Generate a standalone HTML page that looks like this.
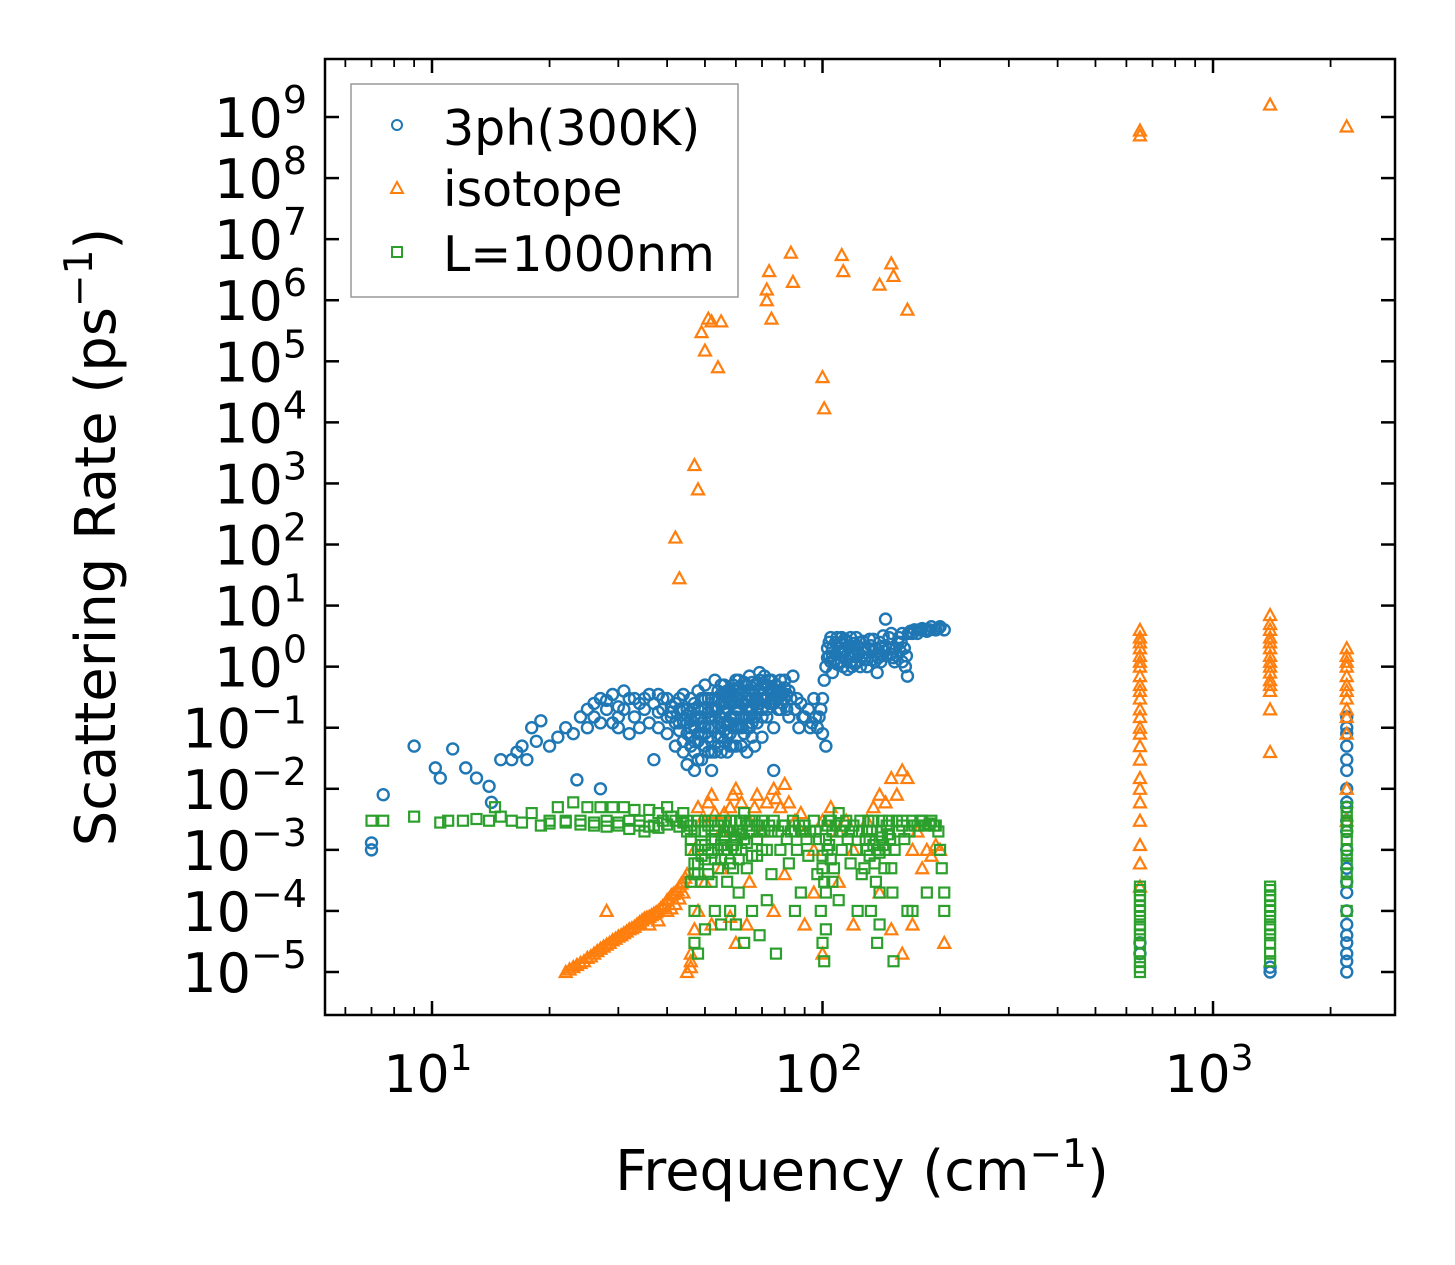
<!DOCTYPE html>
<html><head><meta charset="utf-8"><style>
body{margin:0;background:#fff}
svg{display:block}
text{font-family:"DejaVu Sans","Liberation Sans",sans-serif;fill:#000}
</style></head><body>
<svg id="chart" width="1455" height="1265" viewBox="0 0 1455 1265">
<rect x="0" y="0" width="1455" height="1265" fill="#fff"/>
<g id="marks"></g>
<g id="axes"></g>
<rect x="325" y="59" width="1070" height="956" fill="none" stroke="#000" stroke-width="2.5"/>
<text x="862" y="1190" font-size="56" text-anchor="middle">Frequency (cm<tspan dy="-23" font-size="39">−1</tspan><tspan dy="23">)</tspan></text>
<text transform="translate(115,537) rotate(-90)" font-size="56" text-anchor="middle">Scattering Rate (ps<tspan dy="-23" font-size="39">−1</tspan><tspan dy="23">)</tspan></text>
<g>
<rect x="351" y="84" width="387" height="213" fill="#fff" fill-opacity="0.8" stroke="#999" stroke-width="1.5"/>
<circle cx="397" cy="125" r="5" fill="none" stroke="#1f77b4" stroke-width="2"/>
<text x="443" y="145" font-size="49">3ph(300K)</text>
<path d="M397,182 L403,193 L391,193 Z" fill="none" stroke="#ff7f0e" stroke-width="2"/>
<text x="443" y="206" font-size="49">isotope</text>
<rect x="392" y="247" width="10" height="10" fill="none" stroke="#2ca02c" stroke-width="2"/>
<text x="443" y="271" font-size="49">L=1000nm</text>
</g>
</svg>
<script>
const xTicks=[1,2,3];
const yTicks=[-5,-4,-3,-2,-1,0,1,2,3,4,5,6,7,8,9];
const ph3=[[7,1e-3],[7,1.3e-3],[7.5,8e-3],[9,0.05],[10.2,0.022],[10.5,0.015],[11.3,0.045],[12.2,0.022],[13,0.015],[14,0.011],[14.2,0.006],[15,0.03],[16,0.03],[16.5,0.04],[17,0.05],[17.5,0.03],[18,0.1],[18.5,0.06],[19,0.13],[20,0.05],[21,0.07],[22,0.1],[23,0.08],[23.5,0.014],[24,0.15],[25,0.2],[26,0.25],[27,0.3],[27,0.01],[28,0.2],[29,0.35],[30,0.15],[31,0.4],[33,0.3],[35,0.2],[37,0.03],[38,0.35],
[25,0.1],[26,0.15],[27,0.12],[28,0.28],[29,0.12],[30,0.22],[30,0.1],[31,0.2],[32,0.08],[32,0.3],[33,0.15],[34,0.1],[34,0.25],[35,0.3],[36,0.12],[36,0.35],[37,0.25],[38,0.1],[38,0.18],[39,0.2],[39,0.3],[40,0.3],[40,0.08],[40,0.15],[41,0.15],[41,0.22],[42,0.25],[42,0.05],[42,0.12],[43,0.12],[43,0.3],[44,0.35],[44,0.04],[44,0.2],[45,0.2],[45,0.025],[45,0.08],[45,0.12],[46,0.1],[46,0.3],[46,0.05],[46,0.18],[47,0.06],[47,0.02],[47,0.1],[47,0.25],[48,0.15],[48,0.4],[48,0.03],[48,0.08],[49,0.08],[49,0.03],[49,0.2],[49,0.12],[50,0.2],[50,0.5],[50,0.05],[50,0.1],[51,0.1],[51,0.04],[51,0.3],[51,0.18],[52,0.3],[52,0.02],[52,0.06],[52,0.15],[53,0.15],[53,0.6],[53,0.04],[53,0.3],[54,0.07],[54,0.2],[54,0.4],[54,0.12],[55,0.25],[55,0.04],[55,0.1],[55,0.5],[56,0.12],[56,0.5],[56,0.06],[56,0.25],[57,0.2],[57,0.08],[57,0.4],[57,0.04],[58,0.08],[58,0.4],[58,0.15],[58,0.25],[59,0.15],[59,0.05],[59,0.5],[60,0.3],[60,0.05],[60,0.15],[60,0.6],[61,0.6],[61,0.1],[61,0.3],[62,0.1],[62,0.25],[62,0.05],[63,0.4],[63,0.15],[63,0.08],[64,0.15],[64,0.04],[64,0.3],[65,0.7],[65,0.2],[65,0.1],[66,0.2],[66,0.4],[66,0.07],[67,0.35],[67,0.05],[67,0.15],[68,0.12],[68,0.5],[69,0.8],[69,0.25],[70,0.3],[70,0.07],[70,0.15],[71,0.5],[72,0.5],[72,0.15],[72,0.3],[73,0.4],[74,0.3],[74,0.6],[75,0.1],[75,0.02],[75,0.25],[76,0.5],[77,0.4],[77,0.2],[78,0.2],[78,0.6],[79,0.35],[80,0.6],[80,0.3],[81,0.2],[82,0.15],[82,0.4],[83,0.3],[84,0.7],[85,0.2],[86,0.3],[87,0.1],[88,0.25],[89,0.15],[90,0.15],[92,0.2],[93,0.1],[94,0.12],[95,0.3],[96,0.15],[97,0.1],[98,0.15],[99,0.2],[100,0.08],[102,0.05],[100,0.3],[101,0.6],
[41,0.18],[43,0.09],[43,0.2],[44,0.06],[44,0.13],[45,0.16],[46,0.07],[46,0.13],[47,0.15],[47,0.04],[48,0.2],[48,0.06],[49,0.15],[49,0.3],[50,0.08],[50,0.3],[51,0.07],[51,0.14],[52,0.1],[52,0.2],[52,0.04],[53,0.1],[53,0.2],[54,0.05],[54,0.3],[55,0.15],[55,0.07],[55,0.35],[56,0.09],[56,0.18],[56,0.35],[57,0.12],[57,0.3],[58,0.05],[58,0.12],[59,0.1],[59,0.25],[59,0.35],[60,0.1],[60,0.2],[60,0.4],[61,0.2],[61,0.45],[62,0.15],[62,0.35],[63,0.25],[63,0.55],[64,0.1],[64,0.2],[64,0.5],[65,0.15],[65,0.35],[66,0.12],[66,0.3],[66,0.55],[67,0.25],[67,0.5],[68,0.2],[68,0.3],[69,0.4],[69,0.6],[70,0.2],[70,0.45],[71,0.3],[71,0.7],[72,0.2],[73,0.25],[73,0.6],[74,0.45],[75,0.4],[76,0.35],[77,0.3],[78,0.4],[79,0.25],[80,0.45],[81,0.35],
[102,1],[103,2],[104,1.5],[105,3],[106,0.8],[108,2.5],[110,1.2],[112,3],[114,1.8],[116,0.9],[118,2.2],[120,1.5],[122,3],[125,1],[128,2],[130,1.3],[132,2.8],[135,1.8],[138,0.8],[140,2.5],[143,3.2],[145,6],[148,2],[150,3.5],[153,1.2],[156,2.5],[160,3.5],[163,1],[165,0.7],[168,3.8],[172,4],[175,3.5],[180,4.2],[185,3.8],[190,4.5],[195,4],[200,4.5],[205,4],
[104,2.5],[105,1.2],[106,2],[107,1.2],[108,1.6],[109,3],[110,2],[111,1.8],[112,1.2],[113,1],[114,2.8],[115,2.6],[116,1.6],[117,1.4],[118,3],[119,1],[120,2.4],[121,2],[122,1.2],[124,1.6],[125,2.5],[127,2.6],[128,1.3],[130,1],[131,2],[134,1.3],[135,2.8],[137,2],[139,1.4],[141,1.2],[142,2],[144,1.8],[146,1.5],[148,3],[151,2],[152,1.4],[155,1.5],[157,3],[158,1.8],[160,1.2],[162,2],[164,1.5],[166,3.5],[170,3.5],[177,4],[183,4],[188,4],[198,4.2],
[103,1.4],[106,1.5],[109,1.1],[111,2.4],[113,1.7],[115,1.3],[117,2],[119,1.6],[121,1.1],[123,2.2],[126,1.5],[129,1.7],[133,2.2],[136,1.2],[140,1.6],[145,2.2],[150,1.6],[154,2],[159,2.5],
[650,3e-5],[650,2e-5],[1400,1e-5],[1400,1.2e-5],[2200,1e-5],[2200,2e-5],[2200,3e-5],[2200,6e-5],[2200,1e-4],[2200,3e-4],[2200,1e-3],[2200,3e-3],[2200,1e-2],[2200,3e-2],[2200,0.08],[2200,0.15],[2200,0.05],[2200,0.006],[2200,1.5e-5],[2200,4e-5],[2200,2e-4],[2200,5e-4],[2200,2e-3],[2200,5e-3],[2200,2e-2],[2200,0.1]];
const iso=[[42,130],[43,28],[47,2e3],[48,800],[49,3e5],[50,1.5e5],[51,5e5],[52,4.5e5],[55,4.5e5],[54,8e4],[72,1e6],[73,3e6],[74,5e5],[72,1.5e6],[83,6e6],[84,2e6],[100,5.5e4],[101,1.7e4],[112,5.5e6],[113,3e6],[140,1.8e6],[150,4e6],[152,2.5e6],[165,7e5],[650,5e8],[650,6e8],[1400,1.6e9],[2200,7e8],
[22,1e-5],[22.5,1.1e-5],[23,1.2e-5],[23.5,1.3e-5],[24,1.4e-5],[24.5,1.5e-5],[25,1.7e-5],[25.5,1.8e-5],[26,2e-5],[26.5,2.2e-5],[27,2.4e-5],[27.5,2.6e-5],[28,2.8e-5],[28.5,3e-5],[29,3.3e-5],[29.5,3.5e-5],[30,3.8e-5],[30.5,4e-5],[31,4.3e-5],[31.5,4.6e-5],[32,5e-5],[32.5,5.2e-5],[33,5.5e-5],[33.5,6e-5],[34,6.5e-5],[34.5,7e-5],[35,7.5e-5],[35.5,7.8e-5],[36,8e-5],[36.5,8.5e-5],[37,9e-5],[37.5,9.5e-5],[38,1e-4],[38.5,1.1e-4],[39,1.2e-4],[39.5,1.3e-4],[40,1.5e-4],[40.5,1.6e-4],[41,1.8e-4],[41.5,1.9e-4],[42,2e-4],[42.5,2.2e-4],[43,2.5e-4],[43.5,2.8e-4],[44,3e-4],[44.5,3.5e-4],[45,4e-4],[28,1e-4],[36,6e-5],[40,1e-4],[42,1.3e-4],[38,7e-5],[41,1.1e-4],[43,1.6e-4],[44,2e-4],
[45,1e-5],[46,2e-5],[46,1.2e-5],[47,1e-3],[48,5e-3],[49,3e-3],[50,3e-3],[51,6e-3],[52,8e-3],[53,4e-3],[55,2e-3],[56,4e-3],[58,5e-3],[59,8e-3],[60,1e-2],[62,6e-3],[65,3e-3],[67,5e-3],[68,8e-3],[70,2e-3],[72,6e-3],[75,1e-2],[76,7e-3],[78,5e-3],[80,1.2e-2],[82,6e-3],[85,3e-3],[88,4e-3],[90,2e-3],[95,1e-3],[100,3e-3],[105,5e-3],[110,2e-3],[115,3e-3],[120,1e-3],[130,3e-3],[135,5e-3],[140,8e-3],[145,6e-3],[150,1.5e-2],[155,8e-3],[160,2e-2],[165,1.5e-2],[170,1e-3],[175,2e-3],[180,5e-4],[185,1e-3],[190,8e-4],[195,1.2e-3],[200,1e-3],[205,3e-5],[160,2e-5],[100,2e-5],[60,3e-5],[46,1.5e-5],[47,5e-5],[48,1e-4],[52,6e-5],[58,8e-5],[64,6e-5],[75,1e-4],[90,6e-5],[120,6e-5],[150,5e-5],[170,6e-5],[50,3e-4],[55,5e-4],[65,3e-4],[80,4e-4],[95,2e-4],[110,3e-4],[140,2e-4],
[650,4],[650,3],[650,2],[650,1],[650,0.5],[650,0.3],[650,0.15],[650,0.08],[650,0.05],[650,0.015],[650,0.01],[650,0.006],[650,0.003],[650,0.0012],[650,6e-4],[650,2.5e-4],[650,1.5],[650,0.7],[650,2.5],[650,1.2],[650,0.4],[650,0.2],[650,0.1],[650,0.03],
[1400,7],[1400,5],[1400,3],[1400,2],[1400,1],[1400,0.5],[1400,0.4],[1400,0.2],[1400,0.04],[1400,1.5],[1400,0.8],[1400,4],[1400,2.5],[1400,1.2],[1400,0.6],
[2200,2],[2200,1.5],[2200,1],[2200,0.5],[2200,0.3],[2200,0.15],[2200,0.08],[2200,0.01],[2200,0.003],[2200,0.7],[2200,1.2],[2200,0.4],[2200,0.2]];
const bnd=[[7,3e-3],[7.5,3e-3],[9,3.5e-3],[10.5,2.8e-3],[11,3e-3],[12,3e-3],[13,3.2e-3],[14,3e-3],[14.5,5e-3],[15,3.5e-3],[16,3e-3],[17,2.8e-3],[18,4e-3],[19,2.5e-3],[20,3e-3],[21,5e-3],[22,3e-3],[23,6e-3],[24,3e-3],[25,5e-3],[26,2.8e-3],[27,5e-3],[28,3e-3],[29,5e-3],[30,2.5e-3],[31,5e-3],[32,2.2e-3],[33,4.5e-3],[34,3e-3],[35,2e-3],[36,4.5e-3],[37,2.5e-3],[38,4e-3],[39,3e-3],[40,5e-3],[42,3e-3],[44,4e-3],
[20,2.7e-3],[22,2.8e-3],[24,2.6e-3],[26,2.5e-3],[28,2.4e-3],[30,2.8e-3],[32,3e-3],[34,2.5e-3],[36,2.4e-3],[38,2.3e-3],[40,2.6e-3],[41,3.5e-3],[43,2.4e-3],[44,2.8e-3],
[45,3e-3],[45,2e-3],[46,1e-3],[46,3e-4],[46,2.5e-3],[47,1e-4],[47,3e-5],[47,2e-3],[47,6e-4],[48,2e-5],[48,1e-3],[48,3e-3],[48,4e-4],[49,3e-4],[49,2e-3],[49,8e-4],[50,2e-3],[50,5e-5],[50,1.2e-3],[50,3e-3],[51,1e-3],[51,2.5e-3],[52,3e-4],[52,1.5e-3],[52,3e-3],[53,1e-4],[53,2e-3],[53,7e-4],[54,5e-4],[54,2.5e-3],[55,3e-3],[55,6e-5],[55,1.2e-3],[56,1e-3],[56,2.5e-3],[57,3e-4],[57,2e-3],[58,2e-3],[58,1e-4],[58,3e-3],[59,5e-4],[59,2e-3],[60,3e-3],[60,1e-3],[61,2e-4],[61,2e-3],[62,1e-3],[62,3e-3],[63,4e-3],[63,1.5e-3],[64,5e-4],[64,2.5e-3],[65,2e-3],[65,3e-3],[66,1e-4],[66,2e-3],[67,3e-3],[68,8e-4],[68,2.5e-3],[69,4e-5],[69,2e-3],[70,3e-3],[71,2e-3],[72,1e-3],[73,2.5e-3],[74,4e-4],[74,2e-3],[75,3e-3],[76,2e-5],[77,2e-3],[78,1e-3],[79,2.5e-3],[80,2.5e-3],[81,1.5e-3],[82,6e-4],[83,2e-3],[84,3e-3],[85,2e-3],[86,1e-3],[87,2.5e-3],[88,2e-4],[89,2e-3],[90,2.5e-3],[91,1.5e-3],[92,8e-4],[93,2e-3],[95,3e-3],[96,2e-3],[97,4e-4],[98,1.5e-3],[99,1e-4],[100,3e-5],[100,8e-4],[101,1.5e-5],[101,3e-4],[102,5e-5],[102,1.5e-3],[103,1e-3],[104,3e-3],[105,3e-3],[106,2e-3],[107,5e-4],[108,2.5e-3],[110,4e-3],[111,2e-3],[112,1e-3],[114,2.5e-3],[115,3e-3],[116,1.5e-3],[118,6e-4],[119,2e-3],[120,2.5e-3],[122,1e-3],[123,1e-4],[124,2e-3],[125,3e-3],[126,4e-4],[128,5e-4],[129,1.5e-3],[130,2e-3],[131,3e-3],[132,8e-4],[133,1e-4],[134,2e-3],[135,3e-3],[136,6e-4],[138,3e-5],[139,1e-3],[140,2e-4],[141,2e-3],[142,3e-3],[143,1.2e-3],[145,1e-3],[146,2.5e-3],[148,3e-3],[149,1.5e-3],[150,5e-4],[151,2e-4],[152,1.5e-5],[153,1e-3],[155,3e-3],[157,2e-3],[160,2.5e-3],[162,1.5e-3],[165,1e-4],[167,2e-3],[170,3e-3],[172,2.5e-3],[175,2.5e-3],[178,3e-3],[180,3e-3],[183,2.5e-3],[185,2e-4],[188,2.7e-3],[190,3e-3],[193,2.5e-3],[195,2.5e-3],[198,2e-3],[200,1e-3],[202,5e-4],[205,2e-4],[205,1e-4],[160,3e-3],[60,6e-5],[63,3e-5],[72,1.5e-4],[85,1e-4],[110,1.5e-4],[140,6e-5],[170,1e-4],
[46,1.5e-3],[47,4e-4],[48,6e-4],[49,1.2e-3],[50,7e-4],[51,4e-4],[52,9e-4],[53,1.5e-3],[54,1e-3],[55,7e-4],[56,1.6e-3],[57,1e-3],[58,6e-4],[59,1.2e-3],[60,1.6e-3],[61,7e-4],[62,1.8e-3],[64,1.3e-3],[66,8e-4],[68,1.5e-3],[70,1e-3],[100,5e-4],[102,2e-4],[103,2.5e-3],[104,1.2e-3],[105,7e-4],[106,3e-4],[130,1e-3],[132,1.5e-3],[135,1.2e-3],[137,3e-4],[140,9e-4],[142,1.6e-3],[144,5e-4],[147,1.8e-3],
[650,1e-5],[650,1.5e-5],[650,2e-5],[650,3e-5],[650,5e-5],[650,8e-5],[650,1.2e-4],[650,1.8e-4],[650,2.5e-4],[650,1.2e-5],[650,4e-5],[650,6e-5],[650,1e-4],[650,1.5e-4],[650,2.2e-4],
[1400,1.5e-5],[1400,2e-5],[1400,3e-5],[1400,5e-5],[1400,8e-5],[1400,1.2e-4],[1400,1.8e-4],[1400,2.5e-4],[1400,4e-5],[1400,6e-5],[1400,1e-4],[1400,1.5e-4],[1400,2.2e-4],
[2200,3e-4],[2200,6e-4],[2200,1e-3],[2200,2e-3],[2200,3e-3],[2200,5e-3],[2200,1e-4],[2200,4e-4],[2200,8e-4],[2200,1.5e-3],[2200,2.5e-3],[2200,4e-3]];
const L=325,R=1395,T=59,B=1015;
const xmin=0.726,xmax=3.466,ymin=-5.704,ymax=9.95;
function X(v){return L+(Math.log10(v)-xmin)/(xmax-xmin)*(R-L);}
function Y(v){return B-(Math.log10(v)-ymin)/(ymax-ymin)*(B-T);}
function YE(e){return B-(e-ymin)/(ymax-ymin)*(B-T);}
function XE(e){return L+(e-xmin)/(xmax-xmin)*(R-L);}
const NS='http://www.w3.org/2000/svg';
const marks=document.getElementById('marks'),axes=document.getElementById('axes');
function mk(t,a,p){const e=document.createElementNS(NS,t);for(const k in a)e.setAttribute(k,a[k]);p.appendChild(e);return e;}
ph3.forEach(d=>{const c=mk('circle',{cx:X(d[0]),cy:Y(d[1]),r:5.5,fill:'none',stroke:'#1f77b4','stroke-width':2.4},marks);

});
iso.forEach(d=>{const x=X(d[0]),y=Y(d[1]);const c=mk('path',{d:`M${x},${y-6} L${x+6},${y+5} L${x-6},${y+5} Z`,fill:'none',stroke:'#ff7f0e','stroke-width':2.2},marks);

});
bnd.forEach(d=>{const c=mk('rect',{x:X(d[0])-5,y:Y(d[1])-5,width:10,height:10,fill:'none',stroke:'#2ca02c','stroke-width':2.2},marks);

});
yTicks.forEach(e=>{const y=YE(e);
mk('line',{x1:L,x2:L+14,y1:y,y2:y,stroke:'#000','stroke-width':2.5},axes);
mk('line',{x1:R,x2:R-14,y1:y,y2:y,stroke:'#000','stroke-width':2.5},axes);
const t=mk('text',{x:307,y:y+20,'font-size':54,'text-anchor':'end'},axes);


t.innerHTML='10<tspan dy="-24" font-size="38">'+(e<0?'−'+(-e):e)+'</tspan>';});
for(let d=0;d<=3;d++){for(let m=1;m<10;m++){const v=Math.log10(m)+d;if(v<xmin||v>xmax)continue;const x=XE(v);const len=m==1?14:8,w=m==1?2.5:1.8;
mk('line',{x1:x,x2:x,y1:B,y2:B-len,stroke:'#000','stroke-width':w},axes);
mk('line',{x1:x,x2:x,y1:T,y2:T+len,stroke:'#000','stroke-width':w},axes);}}
xTicks.forEach(e=>{const t=mk('text',{x:XE(e)-4,y:1092,'font-size':52,'text-anchor':'middle'},axes);


t.innerHTML='10<tspan dy="-22" font-size="36">'+e+'</tspan>';});
</script>
</body></html>
